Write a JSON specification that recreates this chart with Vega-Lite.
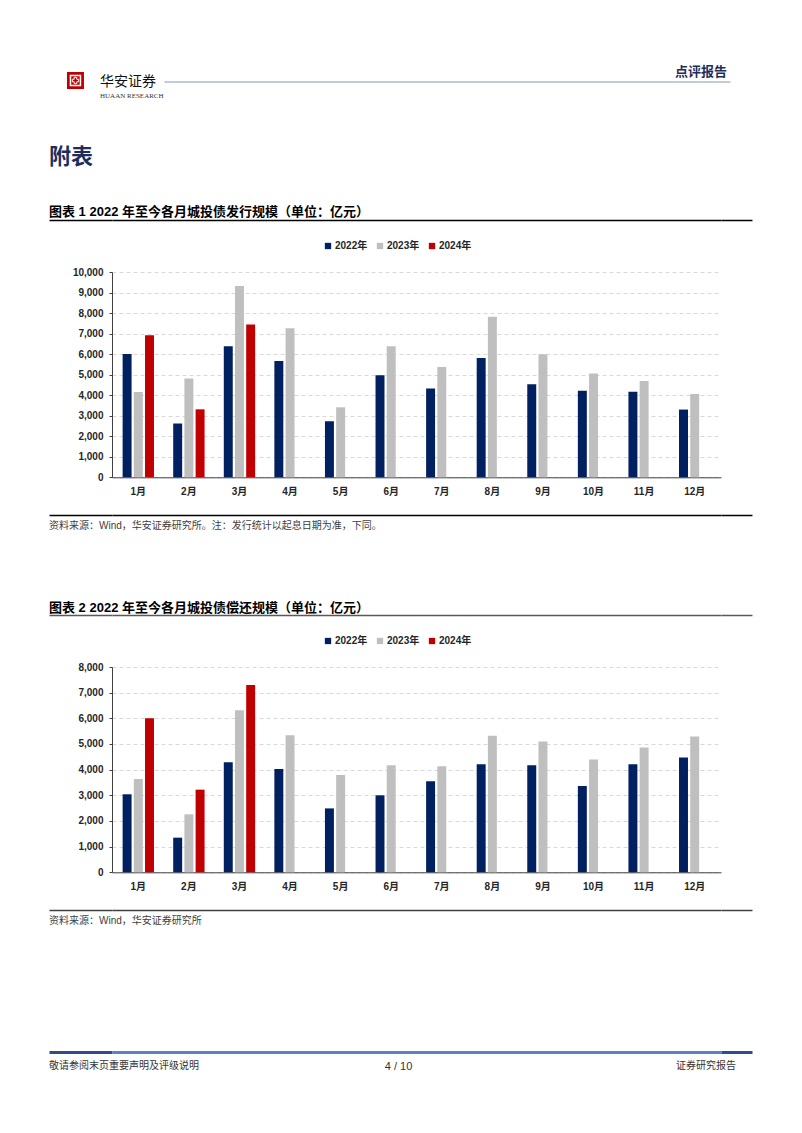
{
  "$schema": "https://vega.github.io/schema/vega-lite/v6.json",
  "background": "white",
  "padding": {"left": 49, "top": 64, "right": 50, "bottom": 60},
  "config": {"view": {"stroke": null}},
  "columns": 3,
  "spacing": 0,
  "bounds": "flush",
  "resolve": {"scale": {"color": "independent"}, "legend": {"color": "independent"}},
  "datasets": {
    "issue": [
      {"month": "1月", "year": "2022年", "value": 6000}, {"month": "2月", "year": "2022年", "value": 2620}, {"month": "3月", "year": "2022年", "value": 6380}, {"month": "4月", "year": "2022年", "value": 5670}, {"month": "5月", "year": "2022年", "value": 2730}, {"month": "6月", "year": "2022年", "value": 4970}, {"month": "7月", "year": "2022年", "value": 4330}, {"month": "8月", "year": "2022年", "value": 5810}, {"month": "9月", "year": "2022年", "value": 4530}, {"month": "10月", "year": "2022年", "value": 4220}, {"month": "11月", "year": "2022年", "value": 4170}, {"month": "12月", "year": "2022年", "value": 3300},
      {"month": "1月", "year": "2023年", "value": 4160}, {"month": "2月", "year": "2023年", "value": 4810}, {"month": "3月", "year": "2023年", "value": 9320}, {"month": "4月", "year": "2023年", "value": 7260}, {"month": "5月", "year": "2023年", "value": 3410}, {"month": "6月", "year": "2023年", "value": 6380}, {"month": "7月", "year": "2023年", "value": 5370}, {"month": "8月", "year": "2023年", "value": 7820}, {"month": "9月", "year": "2023年", "value": 5990}, {"month": "10月", "year": "2023年", "value": 5050}, {"month": "11月", "year": "2023年", "value": 4690}, {"month": "12月", "year": "2023年", "value": 4060},
      {"month": "1月", "year": "2024年", "value": 6920}, {"month": "2月", "year": "2024年", "value": 3310}, {"month": "3月", "year": "2024年", "value": 7440}
    ],
    "repay": [
      {"month": "1月", "year": "2022年", "value": 3040}, {"month": "2月", "year": "2022年", "value": 1350}, {"month": "3月", "year": "2022年", "value": 4290}, {"month": "4月", "year": "2022年", "value": 4030}, {"month": "5月", "year": "2022年", "value": 2490}, {"month": "6月", "year": "2022年", "value": 3000}, {"month": "7月", "year": "2022年", "value": 3550}, {"month": "8月", "year": "2022年", "value": 4210}, {"month": "9月", "year": "2022年", "value": 4170}, {"month": "10月", "year": "2022年", "value": 3360}, {"month": "11月", "year": "2022年", "value": 4210}, {"month": "12月", "year": "2022年", "value": 4470},
      {"month": "1月", "year": "2023年", "value": 3640}, {"month": "2月", "year": "2023年", "value": 2260}, {"month": "3月", "year": "2023年", "value": 6310}, {"month": "4月", "year": "2023年", "value": 5340}, {"month": "5月", "year": "2023年", "value": 3790}, {"month": "6月", "year": "2023年", "value": 4170}, {"month": "7月", "year": "2023年", "value": 4130}, {"month": "8月", "year": "2023年", "value": 5320}, {"month": "9月", "year": "2023年", "value": 5100}, {"month": "10月", "year": "2023年", "value": 4400}, {"month": "11月", "year": "2023年", "value": 4860}, {"month": "12月", "year": "2023年", "value": 5290},
      {"month": "1月", "year": "2024年", "value": 6000}, {"month": "2月", "year": "2024年", "value": 3220}, {"month": "3月", "year": "2024年", "value": 7300}
    ]
  },
  "concat": [
    {
      "width": 63, "height": 17.5,
      "data": {"values": [{"k": "logo"}]},
      "encoding": {
        "x": {"field": "k", "type": "nominal", "scale": {"type": "point", "padding": 0, "align": 0.42}, "axis": null},
        "y": {"field": "k", "type": "nominal", "scale": {"type": "point", "padding": 0, "align": 0.943}, "axis": null}
      },
      "layer": [
        {"mark": {"type": "point", "shape": "square", "size": 289, "filled": true, "color": "#C00000", "opacity": 1}},
        {"mark": {"type": "point", "shape": "square", "size": 100, "filled": false, "stroke": "#FFFFFF", "strokeWidth": 1.5, "opacity": 1}},
        {"mark": {"type": "point", "shape": "cross", "size": 40, "filled": false, "stroke": "#FFFFFF", "strokeWidth": 1, "opacity": 1}}
      ]
    },
    {
      "width": 609, "height": 17.5,
      "data": {"values": [{"k": "h"}]},
      "mark": {"type": "point", "opacity": 0},
      "encoding": {"x": {"field": "k", "type": "nominal", "scale": {"range": [52, 609]}, "axis": {"orient": "bottom", "labels": false, "ticks": false, "title": null, "grid": false, "domainColor": "#8496B0", "domainWidth": 1}}},
      "title": {"text": "华安证券", "subtitle": "HUAAN RESEARCH", "orient": "bottom", "anchor": "start", "frame": "group", "offset": -7, "dx": -12, "font": "Noto Sans CJK SC", "fontSize": 14, "fontWeight": "normal", "color": "#111111", "subtitleFont": "Liberation Serif", "subtitleFontSize": 7, "subtitleColor": "#333333", "subtitlePadding": 3}
    },
    {
      "width": 31, "height": 17.5,
      "data": {"values": [{"k": "h"}]},
      "mark": {"type": "point", "opacity": 0},
      "encoding": {"x": {"field": "k", "type": "nominal", "scale": {"range": [0, 9]}, "axis": {"orient": "bottom", "labels": false, "ticks": false, "title": null, "grid": false, "domainColor": "#8496B0", "domainWidth": 1}}},
      "title": {"text": "点评报告", "orient": "top", "anchor": "end", "frame": "group", "offset": -14.5, "dx": -25, "font": "Noto Sans CJK SC", "fontSize": 13, "fontWeight": "bold", "color": "#1F2D5C"}
    },

    {"width": 63, "height": 137.5, "data": {"values": [{}]}, "mark": {"type": "point", "opacity": 0}, "encoding": {}},
    {"width": 609, "height": 137.5, "data": {"values": [{}]}, "mark": {"type": "point", "opacity": 0}, "encoding": {}},
    {"width": 31, "height": 137.5, "data": {"values": [{}]}, "mark": {"type": "point", "opacity": 0}, "encoding": {}},

    {
      "width": 63, "height": 51.2,
      "data": {"values": [{"k": "c"}]},
      "mark": {"type": "point", "opacity": 0},
      "encoding": {"x": {"field": "k", "type": "nominal", "axis": {"orient": "top", "labels": false, "ticks": false, "title": null, "grid": false, "domainColor": "#000000", "domainWidth": 1.5}}},
      "title": {"text": "附表", "subtitle": "图表 1 2022 年至今各月城投债发行规模（单位：亿元）", "orient": "top", "anchor": "start", "frame": "group", "offset": 0, "font": "Noto Sans CJK SC", "fontSize": 22, "fontWeight": "bold", "color": "#1F2D5C", "subtitleFont": "Liberation Sans, Noto Sans CJK SC", "subtitleFontSize": 13, "subtitleFontWeight": "bold", "subtitleColor": "#000000", "subtitlePadding": 37}
    },
    {"width": 609, "height": 51.2, "data": {"values": [{"k": "c"}]}, "mark": {"type": "point", "opacity": 0}, "encoding": {"x": {"field": "k", "type": "nominal", "axis": {"orient": "top", "labels": false, "ticks": false, "title": null, "grid": false, "domainColor": "#000000", "domainWidth": 1.5}}}},
    {"width": 31, "height": 51.2, "data": {"values": [{"k": "c"}]}, "mark": {"type": "point", "opacity": 0}, "encoding": {"x": {"field": "k", "type": "nominal", "axis": {"orient": "top", "labels": false, "ticks": false, "title": null, "grid": false, "domainColor": "#000000", "domainWidth": 1.5}}}},

    {"width": 63, "height": 205.3, "data": {"values": [{}]}, "mark": {"type": "point", "opacity": 0}, "encoding": {}},
    {
      "width": 609, "height": 205.3,
      "data": {"name": "issue"},
      "mark": {"type": "bar"},
      "encoding": {
        "x": {"field": "month", "type": "nominal", "sort": ["1月", "2月", "3月", "4月", "5月", "6月", "7月", "8月", "9月", "10月", "11月", "12月"], "scale": {"paddingInner": 0.38, "paddingOuter": 0.21}, "axis": {"title": null, "labelAngle": 0, "ticks": false, "grid": false, "domainColor": "#404040", "domainWidth": 1, "labelFont": "Liberation Sans, Noto Sans CJK SC", "labelFontSize": 10, "labelFontWeight": "bold", "labelColor": "#262626", "labelPadding": 9}},
        "xOffset": {"field": "year", "type": "nominal", "sort": ["2022年", "2023年", "2024年"], "scale": {"domain": ["2022年", "2023年", "2024年"], "paddingInner": 0.2, "paddingOuter": 0}},
        "y": {"field": "value", "type": "quantitative", "scale": {"domain": [0, 10000], "nice": false}, "axis": {"title": null, "values": [0, 1000, 2000, 3000, 4000, 5000, 6000, 7000, 8000, 9000, 10000], "format": ",.0f", "labelFont": "Liberation Sans", "labelFontSize": 10, "labelFontWeight": "bold", "labelColor": "#262626", "domain": true, "domainColor": "#404040", "ticks": true, "tickSize": 3, "tickColor": "#404040", "labelPadding": 6, "grid": true, "gridColor": "#D9D9D9", "gridDash": [4, 3], "gridWidth": 1}},
        "color": {"field": "year", "type": "nominal", "scale": {"domain": ["2022年", "2023年", "2024年"], "range": ["#002060", "#BFBFBF", "#C00000"]}, "legend": {"orient": "none", "legendX": 211, "legendY": -31, "direction": "horizontal", "title": null, "symbolType": "square", "symbolSize": 40, "symbolStrokeWidth": 0, "labelFont": "Liberation Sans, Noto Sans CJK SC", "labelFontSize": 10, "labelFontWeight": "bold", "labelColor": "#262626", "columnPadding": 7, "labelOffset": 2}}
      }
    },
    {"width": 31, "height": 205.3, "data": {"values": [{}]}, "mark": {"type": "point", "opacity": 0}, "encoding": {}},

    {
      "width": 63, "height": 37,
      "data": {"values": [{}]}, "mark": {"type": "point", "opacity": 0}, "encoding": {},
      "title": {"text": "资料来源：Wind，华安证券研究所。注：发行统计以起息日期为准，下同。", "orient": "bottom", "anchor": "start", "frame": "group", "offset": 6, "font": "Liberation Sans, Noto Sans CJK SC", "fontSize": 10, "fontWeight": "normal", "color": "#404040"}
    },
    {"width": 609, "height": 37, "data": {"values": [{}]}, "mark": {"type": "point", "opacity": 0}, "encoding": {}},
    {"width": 31, "height": 37, "data": {"values": [{}]}, "mark": {"type": "point", "opacity": 0}, "encoding": {}},

    {"width": 63, "height": 100, "data": {"values": [{"k": "f"}]}, "mark": {"type": "point", "opacity": 0}, "encoding": {"x": {"field": "k", "type": "nominal", "axis": {"orient": "top", "labels": false, "ticks": false, "title": null, "grid": false, "domainColor": "#000000", "domainWidth": 1.5}}}},
    {"width": 609, "height": 100, "data": {"values": [{"k": "f"}]}, "mark": {"type": "point", "opacity": 0}, "encoding": {"x": {"field": "k", "type": "nominal", "axis": {"orient": "top", "labels": false, "ticks": false, "title": null, "grid": false, "domainColor": "#000000", "domainWidth": 1.5}}}},
    {"width": 31, "height": 100, "data": {"values": [{"k": "f"}]}, "mark": {"type": "point", "opacity": 0}, "encoding": {"x": {"field": "k", "type": "nominal", "axis": {"orient": "top", "labels": false, "ticks": false, "title": null, "grid": false, "domainColor": "#000000", "domainWidth": 1.5}}}},

    {
      "width": 63, "height": 51.2,
      "data": {"values": [{"k": "g"}]},
      "mark": {"type": "point", "opacity": 0},
      "encoding": {"x": {"field": "k", "type": "nominal", "axis": {"orient": "top", "labels": false, "ticks": false, "title": null, "grid": false, "domainColor": "#595959", "domainWidth": 1.5}}},
      "title": {"text": "图表 2 2022 年至今各月城投债偿还规模（单位：亿元）", "orient": "top", "anchor": "start", "frame": "group", "offset": 0, "font": "Liberation Sans, Noto Sans CJK SC", "fontSize": 13, "fontWeight": "bold", "color": "#000000"}
    },
    {"width": 609, "height": 51.2, "data": {"values": [{"k": "g"}]}, "mark": {"type": "point", "opacity": 0}, "encoding": {"x": {"field": "k", "type": "nominal", "axis": {"orient": "top", "labels": false, "ticks": false, "title": null, "grid": false, "domainColor": "#595959", "domainWidth": 1.5}}}},
    {"width": 31, "height": 51.2, "data": {"values": [{"k": "g"}]}, "mark": {"type": "point", "opacity": 0}, "encoding": {"x": {"field": "k", "type": "nominal", "axis": {"orient": "top", "labels": false, "ticks": false, "title": null, "grid": false, "domainColor": "#595959", "domainWidth": 1.5}}}},

    {"width": 63, "height": 205.3, "data": {"values": [{}]}, "mark": {"type": "point", "opacity": 0}, "encoding": {}},
    {
      "width": 609, "height": 205.3,
      "data": {"name": "repay"},
      "mark": {"type": "bar"},
      "encoding": {
        "x": {"field": "month", "type": "nominal", "sort": ["1月", "2月", "3月", "4月", "5月", "6月", "7月", "8月", "9月", "10月", "11月", "12月"], "scale": {"paddingInner": 0.38, "paddingOuter": 0.21}, "axis": {"title": null, "labelAngle": 0, "ticks": false, "grid": false, "domainColor": "#404040", "domainWidth": 1, "labelFont": "Liberation Sans, Noto Sans CJK SC", "labelFontSize": 10, "labelFontWeight": "bold", "labelColor": "#262626", "labelPadding": 9}},
        "xOffset": {"field": "year", "type": "nominal", "sort": ["2022年", "2023年", "2024年"], "scale": {"domain": ["2022年", "2023年", "2024年"], "paddingInner": 0.2, "paddingOuter": 0}},
        "y": {"field": "value", "type": "quantitative", "scale": {"domain": [0, 8000], "nice": false}, "axis": {"title": null, "values": [0, 1000, 2000, 3000, 4000, 5000, 6000, 7000, 8000], "format": ",.0f", "labelFont": "Liberation Sans", "labelFontSize": 10, "labelFontWeight": "bold", "labelColor": "#262626", "domain": true, "domainColor": "#404040", "ticks": true, "tickSize": 3, "tickColor": "#404040", "labelPadding": 6, "grid": true, "gridColor": "#D9D9D9", "gridDash": [4, 3], "gridWidth": 1}},
        "color": {"field": "year", "type": "nominal", "scale": {"domain": ["2022年", "2023年", "2024年"], "range": ["#002060", "#BFBFBF", "#C00000"]}, "legend": {"orient": "none", "legendX": 211, "legendY": -31, "direction": "horizontal", "title": null, "symbolType": "square", "symbolSize": 40, "symbolStrokeWidth": 0, "labelFont": "Liberation Sans, Noto Sans CJK SC", "labelFontSize": 10, "labelFontWeight": "bold", "labelColor": "#262626", "columnPadding": 7, "labelOffset": 2}}
      }
    },
    {"width": 31, "height": 205.3, "data": {"values": [{}]}, "mark": {"type": "point", "opacity": 0}, "encoding": {}},

    {
      "width": 63, "height": 37,
      "data": {"values": [{}]}, "mark": {"type": "point", "opacity": 0}, "encoding": {},
      "title": {"text": "资料来源：Wind，华安证券研究所", "orient": "bottom", "anchor": "start", "frame": "group", "offset": 6, "font": "Liberation Sans, Noto Sans CJK SC", "fontSize": 10, "fontWeight": "normal", "color": "#404040"}
    },
    {"width": 609, "height": 37, "data": {"values": [{}]}, "mark": {"type": "point", "opacity": 0}, "encoding": {}},
    {"width": 31, "height": 37, "data": {"values": [{}]}, "mark": {"type": "point", "opacity": 0}, "encoding": {}},

    {"width": 63, "height": 142, "data": {"values": [{"k": "j"}]}, "mark": {"type": "point", "opacity": 0}, "encoding": {"x": {"field": "k", "type": "nominal", "axis": {"orient": "top", "labels": false, "ticks": false, "title": null, "grid": false, "domainColor": "#404040", "domainWidth": 1.5}}}},
    {"width": 609, "height": 142, "data": {"values": [{"k": "j"}]}, "mark": {"type": "point", "opacity": 0}, "encoding": {"x": {"field": "k", "type": "nominal", "axis": {"orient": "top", "labels": false, "ticks": false, "title": null, "grid": false, "domainColor": "#404040", "domainWidth": 1.5}}}},
    {"width": 31, "height": 142, "data": {"values": [{"k": "j"}]}, "mark": {"type": "point", "opacity": 0}, "encoding": {"x": {"field": "k", "type": "nominal", "axis": {"orient": "top", "labels": false, "ticks": false, "title": null, "grid": false, "domainColor": "#404040", "domainWidth": 1.5}}}},

    {
      "width": 63, "height": 1,
      "data": {"values": [{"k": "k"}]}, "mark": {"type": "point", "opacity": 0},
      "encoding": {"x": {"field": "k", "type": "nominal", "axis": {"orient": "top", "labels": false, "ticks": false, "title": null, "grid": false, "domainColor": "#2E4E86", "domainWidth": 3}}},
      "title": {"text": "敬请参阅末页重要声明及评级说明", "orient": "bottom", "anchor": "start", "frame": "group", "offset": 6, "font": "Noto Sans CJK SC", "fontSize": 10, "fontWeight": "normal", "color": "#333333"}
    },
    {
      "width": 609, "height": 1,
      "data": {"values": [{"k": "k"}]}, "mark": {"type": "point", "opacity": 0},
      "encoding": {"x": {"field": "k", "type": "nominal", "axis": {"orient": "top", "labels": false, "ticks": false, "title": null, "grid": false, "domainColor": "#5F82BA", "domainWidth": 3}}},
      "title": {"text": "4 / 10", "orient": "bottom", "anchor": "middle", "frame": "group", "offset": 6, "dx": -18, "font": "Liberation Sans", "fontSize": 11, "fontWeight": "normal", "color": "#333333"}
    },
    {
      "width": 31, "height": 1,
      "data": {"values": [{"k": "k"}]}, "mark": {"type": "point", "opacity": 0},
      "encoding": {"x": {"field": "k", "type": "nominal", "axis": {"orient": "top", "labels": false, "ticks": false, "title": null, "grid": false, "domainColor": "#2E4E86", "domainWidth": 3}}},
      "title": {"text": "证券研究报告", "orient": "bottom", "anchor": "end", "frame": "group", "offset": 6, "dx": -16, "font": "Noto Sans CJK SC", "fontSize": 10, "fontWeight": "normal", "color": "#333333"}
    }
  ]
}
